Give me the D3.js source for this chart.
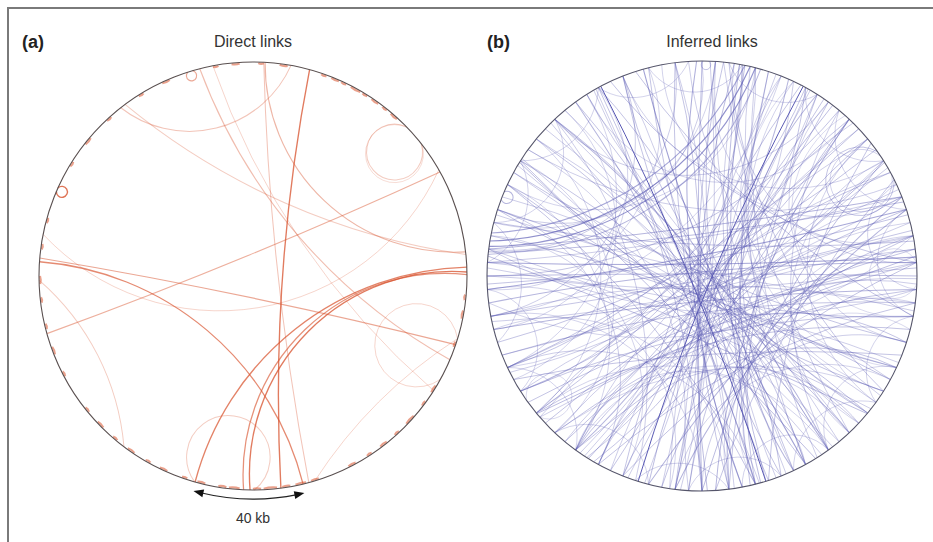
<!DOCTYPE html>
<html><head><meta charset="utf-8">
<script src="https://cdn.jsdelivr.net/npm/d3@7"></script>
<style>html,body{margin:0;padding:0;background:#fff}svg{display:block}</style>
</head><body>
<svg id="chart" width="933" height="542"></svg>
<script>
// ---------- data (positions in kb around a ~500 kb circular map) ----------
const genomeLength = 500;
const panelTitles = ["Direct links", "Inferred links"];
const panelLetters = ["(a)", "(b)"];
const scaleBarKb = 40;
const scaleBarLabel = "40 kb";

// direct links: start kb, end kb, bend (sagitta / radius), weight
const directStart  = [21.3, 271.8, 251.1, 253.5, 249.5, 381.7, 380.3, 373.5, 353.3, 447, 63.5, 64, 475.4, 407.3, 148.7, 4.5, 480, 226.7, 390.6, 485, 4, 449];
const directEnd    = [239.6, 121.7, 123.5, 124.5, 272, 151, 231.2, 301.5, 84.6, 14.2, 72, 72.5, 477.2, 408.7, 165.1, 116, 157, 148.6, 83.7, 170, 229, 117];
const directBend   = [0.06, 0.27, 0.33, 0.34, 0.33, 0.02, 0.26, 0.085, 0.02, 0.2, 0.25, 0.26, 0.045, 0.05, 0.36, 0.28, 0.16, 0.05, 0.5, 0.12, 0.04, 0.12];
const directWeight = [0.9, 0.85, 0.9, 0.75, 0.35, 0.6, 0.8, 0.35, 0.55, 0.4, 0.35, 0.25, 0.6, 0.95, 0.3, 0.5, 0.45, 0.3, 0.3, 0.3, 0.4, 0.35];

// short direct links hugging the rim: start kb, length kb
const rimStart  = [26, 30, 34, 38, 43, 47, 52, 56, 132, 138, 150, 168, 175, 182, 190, 196, 203, 210, 225, 230, 236, 241, 247, 255, 260, 268, 275, 283, 290, 297, 305, 312, 320, 336, 345, 355, 365, 372, 385, 395, 418, 428, 440, 455, 465, 485, 492, 2, 10];
const rimLength = [2, 3, 2, 4, 2, 3, 2, 3, 2, 3, 2, 3, 2, 4, 2, 3, 2, 3, 3, 4, 3, 5, 3, 4, 3, 3, 2, 3, 2, 3, 2, 3, 2, 2, 3, 2, 2, 3, 2, 2, 2, 3, 2, 2, 3, 2, 3, 2, 3];

// inferred links: start kb, end kb, bend, weight
const inferredStart = [18,20,16,22, 12,8,25,3,30,14, 45,60,52,38,70,33,40, 100,118,120,112,130,125,108,95, 135,140,150,160,170,145,155, 180,190,200,205,210,220,225,235,195,215, 245,255,260,265,270,280,250,240, 290,300,310,320,330,340,350,360,375,315,325,345, 400,410,420,430,440,450,460,470,480,490,415,435,455,445, 100,140,300,420,460,200,240,330,380,160,40,10,480,90,270,350,175,55,395,220, 76,78,404,0.5,120,318, 5,28,48,65,85,105,115,165,185,230,260,275,285,295,305,365,385,425,465,475,495,10,35,55,72,88,
  95,97,102, 122,126,128, 60,62, 15,20, 30,35, 50,58, 110,115, 150,165, 190,200, 230,240, 280,290, 320,335, 360,370, 395,410, 440,455, 470,485, 5,12, 70,80, 135,145, 185,210, 250,262, 300,310, 340,355, 385,400,
  8,18,42,65,92,110,138,158,172,198,218,238,258,278,298,318,338,358,378,398,418,438,458,478,498, 14,16,
  0,205.7,80.7,180.3,117.6,228.5,271.5, 203,83,178,120,226,274];
const inferredEnd   = [388,386,391,384, 248,240,232,255,262,222, 215,230,270,280,260,300,292, 370,380,365,395,355,375,360,380, 345,330,300,280,310,320,335, 400,420,440,20,470,460,5,490,430,450, 60,70,100,110,95,120,80,45, 135,110,130,85,60,40,75,30,55,100,115,95, 140,160,170,200,210,230,250,180,220,260,150,190,175,240, 140,175,340,460,495,235,275,370,420,200,80,45,15,130,310,395,215,100,440,255, 88,86,407,2.5,128,326, 200,215,320,340,300,290,330,390,380,410,425,440,15,35,50,110,130,90,120,140,165,170,185,200,225,245,
  385,383,372, 300,305,290, 250,255, 330,340, 170,160, 150,140, 230,240, 250,260, 300,320, 340,355, 390,400, 430,445, 470,480, 5,20, 50,60, 80,95, 110,120, 175,190, 240,230, 290,300, 360,370, 410,420, 455,460, 490,0,
  190,210,265,285,310,340,360,375,405,415,440,470,490,25,45,70,80,105,120,135,160,180,195,210,235, 228,226,
  250,419.3,294.3,382.4,319.7,458.9,41.1, 421,296,385,318,461,39];
const inferredBend  = [.21,.23,.19,.25, .1,.13,.09,.06,.12,.15, .3,.2,.12,.1,.18,.15,.2, .03,.02,.05,.06,.04,.01,.03,.04, .08,.1,.35,.3,.2,.14,.06, .1,.08,.1,.12,.12,.15,.14,.1,.12,.09, .12,.15,.1,.2,.05,.08,.09,.07, .1,.06,.12,.1,.15,.2,.1,.25,.2,.08,.05,.07, .15,.1,.12,.1,.15,.08,.1,.2,.1,.12,.08,.06,.12,.2, .15,.12,.12,.1,.1,.15,.1,.15,.1,.15,.12,.1,.12,.18,.14,.12,.12,.14,.16,.12, .3,.28,.05,.04,.22,.2, .16,.2,.1,.08,.2,.25,.12,.07,.15,.1,.3,.2,.14,.2,.09,.3,.2,.2,.15,.1,.2,.15,.35,.2,.1,.08,
  .02,.03,.05, .2,.22,.3, .25,.27, .3,.35, .4,.45, .35,.4, .35,.3, .3,.28, .35,.3, .3,.35, .35,.3, .3,.35, .3,.35, .3,.35, .3,.35, .3,.35, .35,.3, .3,.35, .35,.4, .35,.4, .3,.35, .3,.35, .3,.35, .3,.35,
  .09,.12,.08,.14,.1,.07,.13,.08,.11,.06,.12,.09,.14,.08,.1,.07,.13,.09,.11,.06,.12,.08,.1,.07,.13, .1,.11,
  .02,.02,.03,.02,.03,.02,.03, .04,.05,.04,.05,.04,.05];
const inferredWeight= [.9,.85,.7,.6, .55,.5,.5,.45,.45,.45, .6,.5,.55,.5,.5,.6,.5, .7,.7,.6,.5,.6,.55,.5,.45, .5,.5,.5,.5,.4,.5,.5, .5,.5,.6,.45,.5,.5,.5,.5,.45,.5, .6,.5,.6,.5,.6,.5,.55,.5, .5,.5,.5,.5,.5,.5,.5,.4,.5,.5,.5,.45, .5,.5,.5,.5,.5,.6,.5,.5,.5,.5,.5,.45,.45,.4, .4,.4,.4,.4,.4,.4,.4,.4,.4,.4,.4,.4,.4,.4,.4,.4,.4,.4,.4,.4, .5,.4,.6,.5,.35,.35, .45,.45,.5,.5,.45,.4,.45,.5,.45,.5,.4,.45,.5,.45,.5,.4,.45,.45,.5,.5,.45,.5,.4,.45,.5,.5,
  .6,.55,.5, .5,.45,.45, .5,.45, .45,.4, .4,.35, .4,.35, .4,.45, .45,.4, .4,.4, .45,.4, .4,.45, .4,.4, .45,.4, .4,.4, .45,.4, .4,.4, .4,.45, .4,.4, .4,.35, .45,.4, .4,.4, .4,.4, .4,.4,
  .45,.45,.45,.45,.45,.45,.45,.45,.45,.45,.45,.45,.45,.45,.45,.45,.45,.45,.45,.45,.45,.45,.45,.45,.45, .75,.65,
  .55,.55,.55,.55,.55,.55,.55, .45,.45,.45,.45,.45,.45];

// ---------- drawing ----------
const svg = d3.select("#chart");
const TAU = Math.PI * 2;
const angle = d3.scaleLinear().domain([0, genomeLength]).range([0, TAU]);

// frame
svg.append("path").attr("d", "M8,542 L8,8 L933,8").attr("fill", "none")
  .attr("stroke", "#7a7a7a").attr("stroke-width", 2);

const panels = [
  {cx: 253, cy: 276, R: 214, color: "#d8532e", rim: "#5a5050", titleX: 253, letterX: 22,
   start: directStart, end: directEnd, bend: directBend, weight: directWeight, width: 1.1, op: 0.85},
  {cx: 702, cy: 276, R: 215, color: "#5a5ab4", rim: "#55556a", titleX: 712, letterX: 487,
   start: inferredStart, end: inferredEnd, bend: inferredBend, weight: inferredWeight, width: 0.95, op: 0.75}
];

function linkPath(cx, cy, R, p1, p2, bend) {
  const t1 = angle(p1), t2 = angle(p2);
  const x1 = cx + R * Math.sin(t1), y1 = cy - R * Math.cos(t1);
  const x2 = cx + R * Math.sin(t2), y2 = cy - R * Math.cos(t2);
  const mx = (x1 + x2) / 2, my = (y1 + y2) / 2;
  const c = Math.hypot(x2 - x1, y2 - y1) / 2;
  let nx = cx - mx, ny = cy - my, nl = Math.hypot(nx, ny);
  if (nl < 1e-6) { nx = -(y2 - y1); ny = x2 - x1; nl = Math.hypot(nx, ny); }
  nx /= nl; ny /= nl;
  const s = bend * R;
  const p = d3.path();
  p.moveTo(x1, y1);
  if (s < 0.3) { p.lineTo(x2, y2); return p.toString(); }
  const r = (c * c + s * s) / (2 * s);
  const ox = mx + (s - r) * nx, oy = my + (s - r) * ny;
  const qx = mx + s * nx, qy = my + s * ny;
  const a1 = Math.atan2(y1 - oy, x1 - ox), a2 = Math.atan2(y2 - oy, x2 - ox), aq = Math.atan2(qy - oy, qx - ox);
  const norm = a => ((a % TAU) + TAU) % TAU;
  const cw = norm(aq - a1) < norm(a2 - a1);
  p.arc(ox, oy, r, a1, a2, !cw);
  return p.toString();
}

panels.forEach((pn, i) => {
  const g = svg.append("g");
  const links = pn.start.map((s, k) => ({s, e: pn.end[k], b: pn.bend[k], w: pn.weight[k]}));
  const op = d3.scaleLinear().domain([0, 1]).range([0, pn.op]);
  g.selectAll("path.link").data(links).join("path").attr("class", "link")
    .attr("d", d => linkPath(pn.cx, pn.cy, pn.R, d.s, d.e, d.b))
    .attr("fill", "none").attr("stroke", pn.color)
    .attr("stroke-width", d => pn.width * (0.7 + d.w * 0.6))
    .attr("stroke-opacity", d => op(d.w));
  if (i === 0) {
    const rims = rimStart.map((s, k) => ({s, e: s + rimLength[k]}));
    g.selectAll("path.rim").data(rims).join("path").attr("class", "rim")
      .attr("d", d => linkPath(pn.cx, pn.cy, pn.R - 1, d.s, d.e, 0.003))
      .attr("fill", "none").attr("stroke", pn.color).attr("stroke-width", 2.2).attr("stroke-opacity", 0.55);
  }
  g.append("circle").attr("cx", pn.cx).attr("cy", pn.cy).attr("r", pn.R)
    .attr("fill", "none").attr("stroke", pn.rim).attr("stroke-width", 1.1);
  svg.append("text").attr("x", pn.letterX).attr("y", 48).text(panelLetters[i])
    .attr("font-family", "Liberation Sans, Arial, sans-serif").attr("font-weight", "bold")
    .attr("font-size", 18).attr("fill", "#222");
  svg.append("text").attr("x", pn.titleX).attr("y", 47).attr("text-anchor", "middle").text(panelTitles[i])
    .attr("font-family", "Liberation Sans, Arial, sans-serif").attr("font-size", 16).attr("fill", "#333");
});

// scale bar: 40 kb arc with arrowheads, centred at the bottom of panel (a)
{
  const pn = panels[0], rr = pn.R + 9;
  const mid = genomeLength / 2 + 1.5;
  const a0 = angle(mid + scaleBarKb / 2), a1 = angle(mid - scaleBarKb / 2);
  const pt = (a, r) => [pn.cx + r * Math.sin(a), pn.cy - r * Math.cos(a)];
  const inset = angle(2.6);
  const arcD = d3.arc()({innerRadius: rr, outerRadius: rr, startAngle: a1 + inset, endAngle: a0 - inset});
  svg.append("path").attr("transform", `translate(${pn.cx},${pn.cy})`)
    .attr("d", arcD).attr("fill", "none").attr("stroke", "#222").attr("stroke-width", 1.2);
  [[a0, -1], [a1, 1]].forEach(([a, dir]) => {
    const tip = pt(a, rr);
    const base = a + dir * angle(3.6);
    const b1 = pt(base, rr - 4), b2 = pt(base, rr + 4);
    svg.append("path").attr("d", `M${tip[0]},${tip[1]}L${b1[0]},${b1[1]}L${b2[0]},${b2[1]}Z`).attr("fill", "#111");
  });
  svg.append("text").attr("x", pn.cx).attr("y", 523).attr("text-anchor", "middle").text(scaleBarLabel)
    .attr("font-family", "Liberation Sans, Arial, sans-serif").attr("font-size", 14).attr("fill", "#333");
}
</script>
</body></html>
